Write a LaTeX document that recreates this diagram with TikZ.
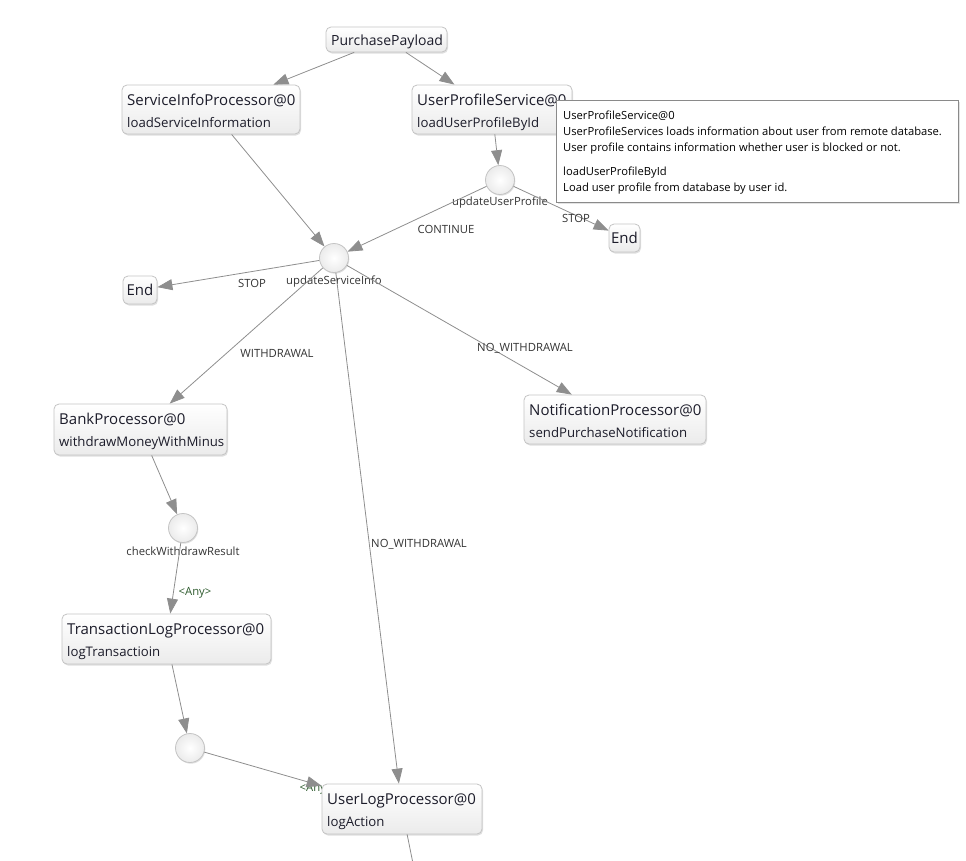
\documentclass[tikz,border=0pt]{standalone}
\usepackage{fontspec}
\setmainfont{Open Sans}
\usetikzlibrary{arrows.meta,shadows,calc}
\definecolor{edgec}{HTML}{8E8E8E}
\definecolor{boxborder}{HTML}{C4C4C4}
\definecolor{boxbottom}{HTML}{EBEBEB}
\definecolor{txt}{HTML}{1C1C2A}
\definecolor{lbl}{HTML}{333333}
\definecolor{anyc}{HTML}{2D5A2D}
\definecolor{tipborder}{HTML}{8A8A8A}
\tikzset{
  procbox/.style={draw=boxborder, line width=0.8pt, rounded corners=5pt, top color=white, bottom color=boxbottom,
    drop shadow={shadow xshift=1pt, shadow yshift=-1.5pt, opacity=0.25}, inner sep=0pt},
  junction/.style={circle, draw=boxborder, line width=0.8pt, inner color=white, outer color=boxbottom,
    minimum size=29pt, inner sep=0pt, drop shadow={shadow xshift=0.8pt, shadow yshift=-1.2pt, opacity=0.25}},
  ttl/.style={anchor=base west, inner sep=0pt, text=txt, font=\fontsize{15}{17}\selectfont},
  sub/.style={anchor=base west, inner sep=0pt, text=txt, font=\fontsize{13.2}{15}\selectfont},
  elabel/.style={inner sep=0pt, text=lbl, font=\fontsize{11.3}{13}\selectfont},
  anylabel/.style={inner sep=0pt, text=anyc, font=\fontsize{11.3}{13}\selectfont},
  edge/.style={draw=edgec, line width=0.8pt, -{Triangle[length=15pt,width=11pt]}, shorten >=0pt},
  tip/.style={anchor=base west, inner sep=0pt, text=black, font=\fontsize{11.2}{13}\selectfont},
}
% #1 name, #2 left, #3 top, #4 width, #5 height, #6 title, #7 subtitle
\newcommand\procnode[7]{%
  \node[procbox, minimum width=#4pt, minimum height=#5pt] (#1) at ({#2+#4/2},{#3+#5/2}) {};
  \node[ttl] (#1-t) at ({#2+5},{#3+20.5}) {#6};
  \node[sub] (#1-s) at ({#2+5},{#3+42}) {#7};
}
\begin{document}
\begin{tikzpicture}[x=1pt,y=-1pt]
\useasboundingbox (0,0) rectangle (966,860);

% simple boxes
\node[procbox, minimum width=121pt, minimum height=25pt] (pp) at (386.5,39.5) {};
\node[ttl, font=\fontsize{14}{16}\selectfont] (pp-t) at (331,45) {PurchasePayload};

\procnode{sip}{122}{85}{178}{49}{ServiceInfoProcessor@0}{loadServiceInformation}
\procnode{ups}{412}{85}{160}{49}{UserProfileService@0}{loadUserProfileById}

\node[junction] (uup) at (500,180) {};
\node[elabel] (uup-l) at (500,203) {updateUserProfile};

\node[procbox, minimum width=31pt, minimum height=28pt] (endr) at (624.5,238) {};
\node[ttl, anchor=center] (endr-t) at (624.5,238) {End};

\node[junction] (usi) at (334,258) {};
\node[elabel] (usi-l) at (334,282) {updateServiceInfo};

\node[procbox, minimum width=34pt, minimum height=28pt] (endl) at (140,290) {};
\node[ttl, anchor=center] (endl-t) at (140,290) {End};

\procnode{bank}{54}{404}{173}{51}{BankProcessor@0}{withdrawMoneyWithMinus}
\procnode{notif}{524}{395}{182}{49}{NotificationProcessor@0}{sendPurchaseNotification}

\node[junction] (cwr) at (183,528) {};
\node[elabel] (cwr-l) at (183,551) {checkWithdrawResult};

\procnode{tlp}{62}{614}{209}{50}{TransactionLogProcessor@0}{logTransactioin}

\node[junction] (j2) at (190,748) {};

\coordinate (offbottom) at (412.5,861);

% edges
\draw[edge] (pp) -- (sip);
\draw[edge] (pp) -- (ups);
\draw[edge] (sip) -- (usi);
\draw[edge] (ups) -- (uup);
\draw[edge] (uup) -- (endr);
\draw[edge] (uup) -- (usi);
\draw[edge] (usi) -- (endl);
\draw[edge] (usi) -- (bank);
\draw[edge] (usi) -- (notif);
\draw[edge] (bank) -- (cwr);
\draw[edge] (cwr) -- (tlp);
\draw[edge] (tlp) -- (j2);

% edge labels
\node[elabel] (l-stopr) at (576,218) {STOP};
\node[elabel] (l-cont) at (446,229) {CONTINUE};
\node[elabel] (l-stopl) at (252,283) {STOP};
\node[elabel] (l-wd) at (277,353) {WITHDRAWAL};
\node[elabel] (l-nwd1) at (525,348) {NO\_WITHDRAWAL};
\node[elabel] (l-nwd2) at (419,544) {NO\_WITHDRAWAL};
\node[anylabel] (l-any1) at (195,593) {<Any>};
\node[anylabel] (l-any2) at (316,789) {<Any>};

% user log processor (drawn over the <Any> label)
\procnode{ulp}{322}{784}{160}{50}{UserLogProcessor@0}{logAction}
\draw[edge] (usi) -- (ulp);
\draw[edge] (j2) -- (ulp);
\draw[draw=edgec, line width=0.8pt] (ulp) -- (offbottom);

% tooltip
\node[draw=tipborder, line width=0.6pt, fill=white, minimum width=402pt, minimum height=102pt, inner sep=0pt,
  drop shadow={shadow xshift=2pt, shadow yshift=-2pt, opacity=0.22}] (tooltip) at (757,151) {};
\node[tip] (tip1) at (563,119) {UserProfileService@0};
\node[tip] (tip2) at (563,135) {UserProfileServices loads information about user from remote database.};
\node[tip] (tip3) at (563,151) {User profile contains information whether user is blocked or not.};
\node[tip] (tip4) at (563,175) {loadUserProfileById};
\node[tip] (tip5) at (563,191) {Load user profile from database by user id.};
\end{tikzpicture}
\end{document}
